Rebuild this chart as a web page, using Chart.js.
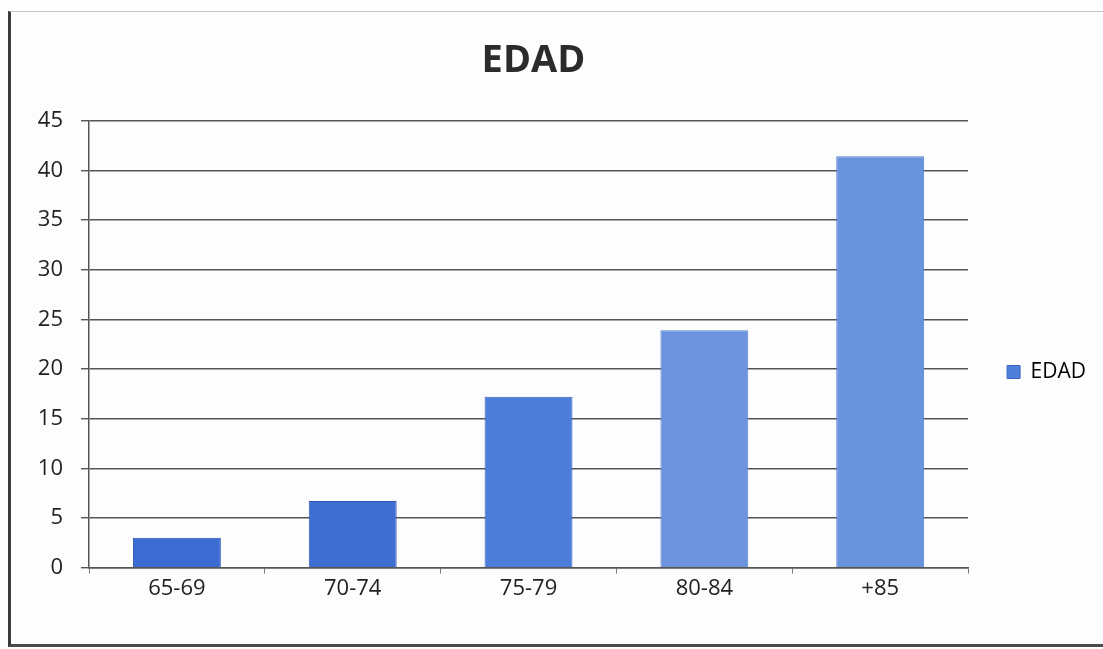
<!DOCTYPE html>
<html>
<head>
<meta charset="utf-8">
<script src="https://cdn.jsdelivr.net/npm/chart.js@4/dist/chart.umd.min.js"></script>
<style>
  html, body { margin: 0; padding: 0; background: #fdfdfd; overflow: hidden; }
  #wrap { position: absolute; left: 0; top: 0; width: 1103px; height: 649px; }
  #frame {
    position: absolute; left: 8px; top: 11px; width: 1110px; height: 632px;
    border-left: 3px solid #3a3a3a; border-top: 1px solid #c4c4c4; border-bottom: 3px solid #4a4a4a;
    pointer-events: none;
  }
</style>
</head>
<body>
<div id="wrap"><canvas id="c" width="1103" height="649"></canvas></div>
<div id="frame"></div>
<script>
// Age groups and their counts
const categories = ['65-69', '70-74', '75-79', '80-84', '+85'];
const edadValues = [3.0, 6.7, 17.2, 23.9, 41.4];
const yTicks = [0, 5, 10, 15, 20, 25, 30, 35, 40, 45];

const barColors = ['#3c6cd1', '#3e6ed2', '#4d7dd8', '#6b93de', '#6a93de'];
const barBorders = ['#2d58b8', '#2d58b8', '#3565c4', '#5a84d2', '#5a84d2'];

const font = "'Open Sans', 'Liberation Sans', sans-serif";

// Nudges the legend so it sits level with the middle of the plot
const legendPlacer = {
  id: 'legendPlacer',
  afterLayout(chart) {
    const l = chart.legend;
    if (!l) return;
    const dx = chart.chartArea.right + 29 - l.left;
    const dy = 70;
    l.left += dx; l.right += dx;
    l.top += dy; l.bottom += dy;
  }
};

new Chart(document.getElementById('c'), {
  type: 'bar',
  data: {
    labels: categories,
    datasets: [{
      label: 'EDAD',
      data: edadValues,
      backgroundColor: barColors,
      borderColor: barBorders,
      borderWidth: 1,
      barPercentage: 0.5,
      categoryPercentage: 1.0
    }]
  },
  options: {
    responsive: false,
    animation: false,
    layout: { padding: { left: 0, right: 36, top: 0, bottom: 45 } },
    plugins: {
      title: {
        display: true,
        text: 'EDAD',
        color: '#2b2b2b',
        font: { family: font, size: 38, weight: 'bold' },
        padding: { top: 38, bottom: 37 }
      },
      legend: {
        display: true,
        position: 'right',
        labels: {
          color: '#333',
          font: { family: font, size: 21 },
          boxWidth: 13,
          boxHeight: 13,
          padding: 10,
          generateLabels(chart) {
            return [{
              text: 'EDAD',
              fillStyle: '#4f7fd8',
              strokeStyle: '#3565c4',
              lineWidth: 1,
              hidden: false,
              datasetIndex: 0
            }];
          }
        }
      },
      tooltip: { enabled: false }
    },
    scales: {
      x: {
        offset: true,
        grid: {
          offset: true,
          drawOnChartArea: false,
          drawTicks: true,
          tickLength: 6,
          color: '#777'
        },
        border: { display: true, color: '#555', width: 1.5 },
        ticks: {
          color: '#222',
          font: { family: font, size: 22 },
          padding: 2
        }
      },
      y: {
        min: 0,
        max: 45,
        afterFit(scale) { scale.width = 89; },
        afterBuildTicks(scale) { scale.ticks = yTicks.map(v => ({ value: v })); },
        grid: {
          color: '#555',
          lineWidth: 1.4,
          tickLength: 8
        },
        border: { display: true, color: '#555', width: 1.5 },
        ticks: {
          color: '#222',
          font: { family: font, size: 22 },
          padding: 18
        }
      }
    }
  },
  plugins: [legendPlacer]
});
</script>
</body>
</html>
